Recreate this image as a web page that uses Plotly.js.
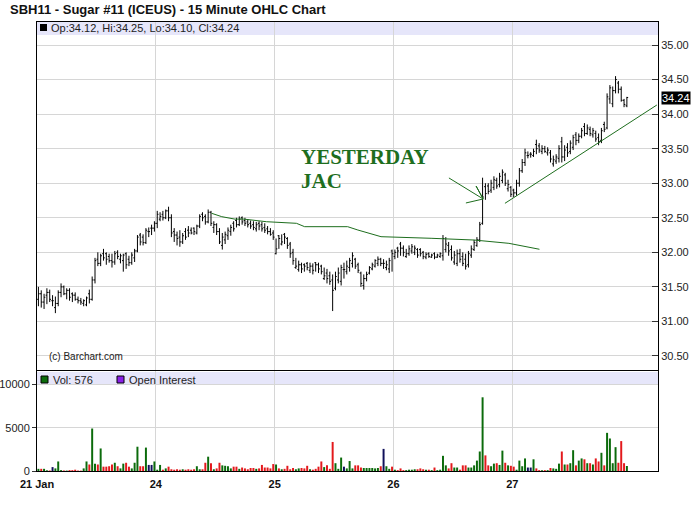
<!DOCTYPE html>
<html><head><meta charset="utf-8">
<script src="https://cdn.plot.ly/plotly-3.0.1.min.js"></script>
<style>html,body{margin:0;padding:0;background:#fff}#chart{width:700px;height:512px}</style>
</head><body><div id="chart"></div>
<script>
// ---------- DATA ----------
const dayLabels = ['21 Jan','24','25','26','27'];
const dayStartBar = [0,42,84,126,168];

const open = [
31.32,31.40,31.28,31.38,31.42,31.30,31.20,31.26,31.42,31.50,31.40,31.45,31.40,31.38,31.32,31.30,31.26,31.24,31.40,31.32,31.60,31.90,31.84,31.98,31.98,31.94,31.88,31.86,32.00,31.90,31.88,31.98,31.90,31.85,31.92,32.02,32.25,32.22,32.14,32.30,32.35,32.35,
32.42,32.48,32.55,32.50,32.60,32.50,32.30,32.25,32.22,32.15,32.30,32.32,32.32,32.35,32.28,32.38,32.55,32.52,32.44,32.58,32.36,32.40,32.30,32.10,32.18,32.24,32.30,32.42,32.46,32.40,32.50,32.46,32.44,32.42,32.40,32.34,32.42,32.40,32.36,32.34,32.30,32.28,
31.98,32.24,32.12,32.26,32.20,32.12,32.00,31.78,31.75,31.82,31.82,31.84,31.74,31.80,31.85,31.82,31.80,31.62,31.70,31.66,31.60,31.48,31.60,31.58,31.75,31.72,31.78,31.84,31.90,31.82,31.70,31.52,31.62,31.70,31.76,31.80,31.84,31.90,31.84,31.78,31.76,32.02,
31.94,32.06,32.12,32.06,31.94,31.98,32.02,32.00,32.04,32.04,32.00,31.93,31.98,31.93,31.98,31.93,31.94,31.95,32.04,32.10,32.04,31.86,31.84,31.98,31.94,31.90,31.82,31.96,32.04,32.10,32.18,32.42,32.95,32.96,32.90,32.94,33.04,32.98,33.04,33.12,32.92,32.94,
32.90,32.86,33.00,33.18,33.30,33.40,33.42,33.40,33.56,33.54,33.46,33.50,33.44,33.44,33.28,33.32,33.36,33.60,33.38,33.52,33.46,33.52,33.70,33.62,33.68,33.82,33.72,33.78,33.70,33.72,33.66,33.62,33.85,33.80,34.22,34.15,34.34,34.45,34.36,34.20,34.12
];
const high = [
31.50,31.45,31.40,31.48,31.46,31.38,31.36,31.45,31.55,31.52,31.48,31.48,31.42,31.42,31.36,31.34,31.32,31.36,31.46,31.65,31.92,32.00,31.98,32.05,32.00,31.98,31.98,32.02,32.03,31.98,31.98,32.00,31.95,32.00,32.05,32.25,32.28,32.26,32.35,32.36,32.40,32.45,
32.60,32.58,32.60,32.62,32.66,32.55,32.35,32.30,32.32,32.28,32.35,32.38,32.36,32.36,32.40,32.55,32.58,32.55,32.62,32.60,32.45,32.42,32.35,32.28,32.30,32.36,32.40,32.45,32.50,32.52,32.52,32.50,32.48,32.46,32.45,32.44,32.45,32.44,32.42,32.38,32.35,32.32,
32.20,32.25,32.26,32.28,32.22,32.15,32.05,31.92,31.88,31.85,31.84,31.86,31.85,31.84,31.86,31.85,31.82,31.78,31.76,31.72,31.68,31.72,31.78,31.82,31.85,31.88,31.92,32.00,31.92,31.85,31.72,31.68,31.72,31.80,31.85,31.90,31.94,31.92,31.90,31.88,31.92,32.04,
32.04,32.08,32.15,32.10,32.05,32.10,32.12,32.10,32.06,32.06,32.02,32.00,32.00,31.98,32.00,31.98,32.00,32.25,32.22,32.15,32.10,32.02,32.04,32.05,32.00,31.98,32.02,32.10,32.18,32.22,32.44,33.08,33.00,33.00,33.05,33.10,33.08,33.15,33.20,33.15,33.05,32.96,
32.92,33.05,33.22,33.35,33.50,33.46,33.45,33.50,33.63,33.58,33.55,33.54,33.52,33.48,33.40,33.42,33.55,33.67,33.55,33.58,33.62,33.70,33.74,33.72,33.80,33.87,33.85,33.82,33.80,33.76,33.72,33.80,33.89,34.30,34.42,34.40,34.55,34.48,34.40,34.22,34.25
];
const low = [
31.22,31.20,31.18,31.25,31.28,31.22,31.12,31.22,31.35,31.38,31.32,31.30,31.28,31.30,31.26,31.24,31.22,31.22,31.26,31.30,31.55,31.80,31.80,31.88,31.82,31.85,31.78,31.82,31.90,31.84,31.72,31.76,31.80,31.82,31.86,32.00,32.10,32.10,32.12,32.22,32.25,32.30,
32.35,32.45,32.46,32.48,32.45,32.22,32.15,32.10,32.08,32.12,32.18,32.22,32.26,32.25,32.26,32.35,32.45,32.40,32.42,32.38,32.28,32.25,32.12,32.04,32.12,32.18,32.24,32.30,32.36,32.38,32.40,32.38,32.36,32.34,32.32,32.30,32.32,32.30,32.28,32.26,32.24,32.18,
31.97,32.05,32.10,32.12,32.05,31.92,31.82,31.76,31.72,31.70,31.72,31.74,31.70,31.68,31.72,31.70,31.68,31.60,31.55,31.53,31.15,31.45,31.55,31.52,31.62,31.68,31.72,31.78,31.76,31.70,31.50,31.46,31.58,31.68,31.74,31.78,31.80,31.80,31.76,31.74,31.70,31.72,
31.90,31.92,31.95,31.94,31.92,31.95,31.98,31.96,31.92,31.94,31.90,31.90,31.92,31.92,31.90,31.92,31.92,31.88,32.00,31.95,31.88,31.82,31.80,31.85,31.80,31.75,31.78,31.92,32.02,32.08,32.15,32.40,32.76,32.84,32.86,32.90,32.92,32.94,33.00,32.96,32.88,32.80,
32.80,32.82,32.95,33.15,33.25,33.36,33.37,33.38,33.42,33.44,33.42,33.44,33.40,33.30,33.24,33.28,33.30,33.30,33.32,33.38,33.42,33.48,33.55,33.58,33.65,33.68,33.70,33.68,33.66,33.60,33.55,33.58,33.74,33.78,34.15,34.10,34.30,34.30,34.18,34.10,34.10
];
const close = [
31.40,31.28,31.35,31.42,31.32,31.30,31.26,31.42,31.50,31.40,31.45,31.35,31.38,31.32,31.30,31.28,31.30,31.34,31.32,31.60,31.88,31.84,31.95,31.92,31.90,31.88,31.86,31.98,31.94,31.95,31.96,31.82,31.85,31.96,32.02,32.22,32.15,32.14,32.32,32.30,32.35,32.42,
32.55,32.52,32.50,32.60,32.50,32.28,32.25,32.20,32.15,32.24,32.22,32.28,32.28,32.30,32.38,32.52,32.50,32.44,32.58,32.42,32.40,32.30,32.15,32.22,32.26,32.32,32.36,32.34,32.40,32.48,32.44,32.42,32.40,32.38,32.36,32.40,32.38,32.34,32.32,32.30,32.26,32.22,
32.05,32.20,32.15,32.22,32.10,31.98,31.88,31.80,31.82,31.76,31.80,31.78,31.80,31.74,31.82,31.76,31.72,31.66,31.62,31.58,31.45,31.65,31.70,31.78,31.75,31.80,31.88,31.95,31.80,31.74,31.55,31.62,31.68,31.78,31.82,31.88,31.90,31.84,31.84,31.82,31.88,31.98,
32.00,32.02,32.06,32.00,31.98,32.05,32.08,32.06,31.96,31.98,31.94,31.97,31.94,31.96,31.93,31.96,31.98,32.20,32.12,32.02,31.92,31.96,31.98,31.90,31.84,31.80,31.98,32.05,32.14,32.18,32.40,32.80,32.85,32.88,33.00,33.05,32.96,33.10,33.16,33.00,32.98,32.84,
32.86,33.00,33.18,33.30,33.44,33.40,33.42,33.46,33.50,33.48,33.50,33.46,33.48,33.35,33.34,33.38,33.50,33.38,33.48,33.44,33.58,33.66,33.62,33.68,33.76,33.72,33.80,33.72,33.76,33.64,33.60,33.76,33.78,34.25,34.38,34.34,34.50,34.36,34.20,34.14,34.24
];
const volume = [
250,250,250,80,60,450,300,1100,100,60,50,100,100,150,50,40,300,1100,750,4900,850,750,2600,500,500,550,750,950,550,300,850,950,500,300,950,2800,550,550,2700,700,700,1100,
150,700,150,300,500,200,150,200,150,200,150,200,150,200,550,200,200,950,1650,900,200,300,950,650,600,550,300,500,500,250,400,300,200,350,350,250,300,700,400,400,300,800,
750,300,200,250,600,200,350,200,300,350,300,600,200,150,250,500,1100,450,650,250,3350,900,250,1550,500,300,1150,300,650,650,400,350,350,350,350,300,350,550,2550,550,250,500,
150,100,300,100,100,150,150,200,200,300,200,150,150,100,400,100,150,1750,650,300,900,400,400,150,650,650,400,400,650,1200,2250,8500,1800,650,550,850,900,700,2350,950,650,600,
500,150,1200,550,1450,400,400,1350,300,100,100,100,100,350,300,250,850,2250,750,750,900,2400,650,1200,1450,1350,900,900,750,1450,1100,2100,650,4400,3750,900,2750,950,3450,900,576
];
const priceTicks = [30.5,31,31.5,32,32.5,33,33.5,34,34.5,35];
const volTicks = [0,5000,10000];

// hand-drawn lines on the chart (bar index, price)
const avgLineBar   = [61.2,64.8,69.5,72.3,80.6,91.2,94.1,104.1,109.3,112.9,121.1,138.8,154.0,166.3,173.4,177.1];
const avgLinePrice = [32.565,32.516,32.48,32.482,32.443,32.42,32.371,32.371,32.371,32.323,32.226,32.203,32.178,32.13,32.067,32.044];
const trendBar   = [164.9,218.6];
const trendPrice = [32.709,34.132];
const arrowBar   = [145.1,157.2,154.7,157.2,151.1];
const arrowPrice = [33.076,32.772,32.959,32.772,32.714];

// ---------- CHART ----------
const n = close.length;
const last = n - 1;
const idx = close.map((_, i) => i);
const volColors = close.map((c, i) => c > open[i] ? '#0b6b0b' : (c < open[i] ? '#e3191c' : '#10105a'));
const dayTickVals = dayStartBar.map(b => b - 0.5);

const FONT = 'Liberation Sans, Arial, sans-serif';
const GRID = '#d6d6d6';
const GREEN = '#1e6e1e';
const Lp = 37, Rp = 658, Tp = 22, Bp = 471;
const px = v => (v - Lp) / (Rp - Lp);
const py = v => (Bp - v) / (Bp - Tp);

const traces = [
  {type:'ohlc', x: idx, open, high, low, close, xaxis:'x2', yaxis:'y',
   increasing:{line:{color:'#000', width:1}}, decreasing:{line:{color:'#000', width:1}},
   tickwidth:0.45, hoverinfo:'skip'},
  {type:'scatter', mode:'lines', x: avgLineBar, y: avgLinePrice, xaxis:'x2', yaxis:'y',
   line:{color:GREEN, width:1}, hoverinfo:'skip'},
  {type:'scatter', mode:'lines', x: trendBar, y: trendPrice, xaxis:'x2', yaxis:'y',
   line:{color:GREEN, width:1}, hoverinfo:'skip', cliponaxis:true},
  {type:'scatter', mode:'lines', x: arrowBar, y: arrowPrice, xaxis:'x2', yaxis:'y',
   line:{color:GREEN, width:1}, hoverinfo:'skip'},
  {type:'bar', x: idx, y: volume, xaxis:'x', yaxis:'y2', width:0.7,
   marker:{color: volColors, line:{width:0}}, hoverinfo:'skip'}
];

const f2 = v => v.toFixed(2);
const layout = {
  width:700, height:512,
  margin:{l:Lp, r:700-Rp, t:Tp, b:512-Bp, pad:0},
  paper_bgcolor:'#fff', plot_bgcolor:'#fff',
  showlegend:false, hovermode:false,
  title:{text:'<b>SBH11 - Sugar #11 (ICEUS) - 15 Minute OHLC Chart</b>',
         font:{family:FONT, size:13, color:'#111'},
         x:10/700, xanchor:'left', xref:'container', y:1-9/512, yanchor:'middle', yref:'container'},
  xaxis:{domain:[0,1], anchor:'y2', range:[-0.5, 219], tickmode:'array', tickvals:dayTickVals,
         ticktext:dayLabels.map(t => '<b>'+t+'</b>'), tickfont:{family:FONT, size:11, color:'#111'},
         ticks:'', ticklabelstandoff:3, showgrid:true, gridcolor:GRID, gridwidth:1, showline:true, linecolor:'#000',
         linewidth:1, mirror:true, zeroline:false, rangeslider:{visible:false}, fixedrange:true},
  xaxis2:{domain:[0,1], anchor:'y', matches:'x', range:[-0.5, 219], tickmode:'array', tickvals:dayTickVals,
         showticklabels:false, ticks:'', showgrid:true, gridcolor:GRID, showline:true, linecolor:'#000',
         linewidth:1, mirror:true, zeroline:false, rangeslider:{visible:false}, fixedrange:true},
  yaxis:{domain:[py(370),1], anchor:'x2', side:'right', range:[30.297, 35.333], tickmode:'array',
         tickvals:priceTicks, ticktext:priceTicks.map(f2), tickfont:{family:FONT, size:11, color:'#222'},
         ticks:'inside', ticklen:6, tickcolor:'#333', showgrid:true, gridcolor:GRID, showline:true,
         linecolor:'#000', linewidth:1, mirror:true, zeroline:false, fixedrange:true},
  yaxis2:{domain:[0, py(371)], anchor:'x', side:'left', range:[0, 11534], tickmode:'array',
         tickvals:volTicks, ticktext:volTicks.map(String), tickfont:{family:FONT, size:11, color:'#222'},
         ticks:'outside', ticklen:4, tickcolor:'#333', showgrid:true, gridcolor:GRID, showline:true,
         linecolor:'#000', linewidth:1, mirror:true, zeroline:false, fixedrange:true},
  shapes:[
    {type:'rect', xref:'paper', yref:'paper', x0:0, x1:1, y0:py(35), y1:1, fillcolor:'#e6e6fa', line:{width:0}, layer:'below'},
    {type:'rect', xref:'paper', yref:'paper', x0:0, x1:1, y0:py(385), y1:py(372), fillcolor:'#e6e6fa', line:{width:0}, layer:'below'},
    {type:'rect', xref:'paper', yref:'paper', x0:px(40), x1:px(47), y0:py(31), y1:py(24), fillcolor:'#000', line:{width:0}},
    {type:'rect', xref:'paper', yref:'paper', x0:px(41), x1:px(48), y0:py(383), y1:py(376), fillcolor:'#0b6b0b', line:{color:'#000', width:1}},
    {type:'rect', xref:'paper', yref:'paper', x0:px(117), x1:px(124), y0:py(383), y1:py(376), fillcolor:'#8a1ee8', line:{color:'#000', width:1}}
  ],
  annotations:[
    {xref:'paper', yref:'paper', x:px(49), y:py(28.5), xanchor:'left', yanchor:'middle', showarrow:false,
     text:'Op:'+f2(open[last])+', Hi:'+f2(high[last])+', Lo:'+f2(low[last])+', Cl:'+f2(close[last]),
     font:{family:FONT, size:11, color:'#222'}},
    {xref:'paper', yref:'paper', x:px(51), y:py(379.5), xanchor:'left', yanchor:'middle', showarrow:false,
     text:'Vol: '+volume[last], font:{family:FONT, size:11, color:'#222'}},
    {xref:'paper', yref:'paper', x:px(127), y:py(379.5), xanchor:'left', yanchor:'middle', showarrow:false,
     text:'Open Interest', font:{family:FONT, size:11, color:'#222'}},
    {xref:'paper', yref:'paper', x:px(47), y:py(356.5), xanchor:'left', yanchor:'middle', showarrow:false,
     text:'(c) Barchart.com', font:{family:FONT, size:10, color:'#222'}},
    {xref:'paper', yref:'y', x:1, y:close[last], xanchor:'left', yanchor:'middle', xshift:3, showarrow:false,
     text:f2(close[last]), bgcolor:'#000', borderpad:0, font:{family:FONT, size:11, color:'#fff'}},
    {xref:'paper', yref:'paper', x:px(299), y:py(157), xanchor:'left', yanchor:'middle', showarrow:false,
     text:'<b>YESTERDAY</b>', font:{family:'Liberation Serif, Times New Roman, serif', size:21, color:GREEN}},
    {xref:'paper', yref:'paper', x:px(299), y:py(181), xanchor:'left', yanchor:'middle', showarrow:false,
     text:'<b>JAC</b>', font:{family:'Liberation Serif, Times New Roman, serif', size:21, color:GREEN}}
  ]
};

Plotly.newPlot('chart', traces, layout, {staticPlot:true, displayModeBar:false});
</script></body></html>
